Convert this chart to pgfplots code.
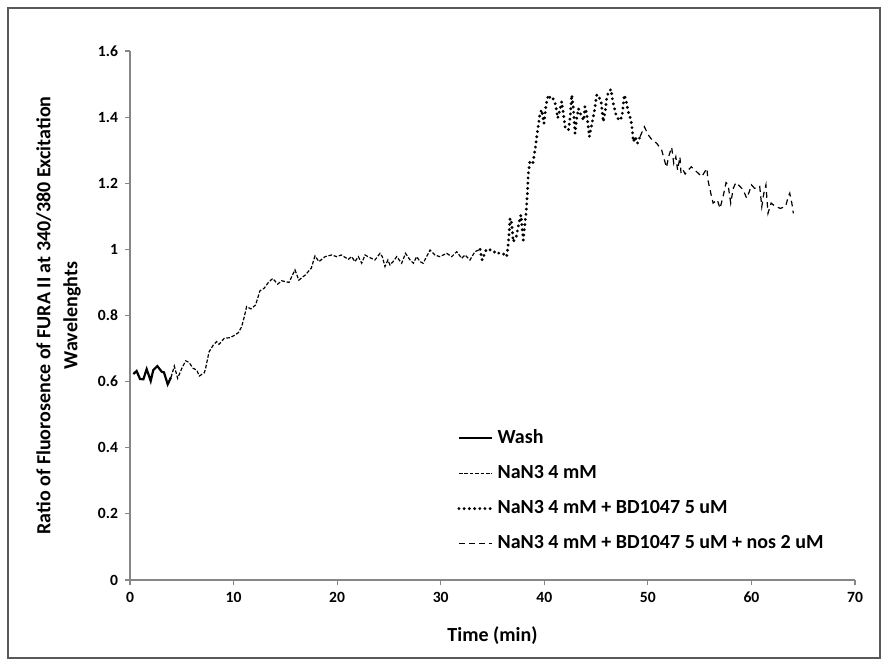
\documentclass[border=0pt]{standalone}
\usepackage{fontspec}
\setmainfont{Carlito}
\usepackage{pgfplots}
\pgfplotsset{compat=1.18}
\definecolor{axgray}{RGB}{134,134,134}

\begin{document}
\begin{tikzpicture}
\path[use as bounding box] (-65pt,-43pt) rectangle (379pt,290pt);
\draw[black!65, line width=0.6pt] (-61pt,-39pt) rectangle (375pt,286pt);
\begin{axis}[
    at={(0,0)}, anchor=south west,
    width=362.5pt, height=264.5pt, scale only axis,
    xmin=0, xmax=70, ymin=0, ymax=1.6,
    xtick={0,10,20,30,40,50,60,70},
    ytick={0,0.2,0.4,0.6,0.8,1,1.2,1.4,1.6},
    axis x line*=bottom, axis y line*=left,
    axis line style={axgray, line width=0.6pt, -},
    tick style={axgray, line width=0.6pt},
    tick align=outside, major tick length=2.5pt,
    /pgf/number format/assume math mode=true,
    /pgf/number format/fixed,
    tick label style={font=\fontsize{7.8}{9}\selectfont\bfseries, black},
    xlabel={Time (min)},
    xlabel style={font=\fontsize{10}{12}\selectfont\bfseries, at={(axis description cs:0.5,-0.106)}, anchor=center},
    ylabel={Ratio of Fluorosence of FURA II at 340/380 Excitation\\Wavelenghts},
    ylabel style={font=\fontsize{10}{13.5}\selectfont\bfseries, align=center, at={(axis description cs:-0.0986,0.5)}, anchor=center},
    legend style={at={(axis description cs:0.451,0.293)}, anchor=north west, draw=none, fill=none,
        font=\fontsize{10}{12}\selectfont\bfseries, row sep=5.5pt, inner sep=0pt, cells={anchor=west}},
    legend image code/.code={\draw[#1] (0pt,0pt) -- (16.5pt,0pt);},
]
\addplot[black, line width=1.1pt] coordinates {
(0.32,0.623)(0.64,0.632)(0.97,0.608)(1.29,0.607)(1.61,0.638)(2.0,0.602)(2.25,0.635)(2.64,0.647)(3.06,0.630)(3.28,0.628)(3.64,0.592)(3.96,0.613)
};
\addlegendentry{Wash}
\addplot[black, line width=0.6pt, dash pattern=on 1.8pt off 0.9pt] coordinates {
(3.96,0.613)(4.28,0.647)(4.6,0.61)(5.0,0.64)(5.38,0.663)(5.7,0.658)(6.1,0.64)(6.44,0.635)(6.7,0.617)(7.18,0.627)(7.3,0.64)(7.63,0.69)(8.05,0.711)(8.37,0.721)(8.6,0.713)(9.1,0.731)(9.66,0.733)(10.14,0.741)(10.46,0.748)(10.78,0.766)(11.04,0.797)(11.26,0.827)(11.68,0.82)(12.13,0.832)(12.55,0.875)(12.94,0.882)(13.36,0.9)(13.78,0.912)(14.26,0.895)(14.65,0.905)(15.35,0.9)(15.93,0.938)(16.3,0.907)(16.9,0.922)(17.5,0.943)(17.86,0.98)(18.25,0.963)(18.83,0.978)(19.47,0.983)(19.96,0.978)(20.4,0.983)(21.08,0.97)(21.4,0.978)(21.72,0.963)(22.05,0.978)(22.37,0.958)(22.69,0.983)(23.17,0.975)(23.65,0.968)(24.14,0.988)(24.36,0.978)(24.62,0.948)(24.9,0.968)(25.1,0.953)(25.4,0.963)(25.75,0.978)(26.23,0.958)(26.6,0.988)(27.04,0.968)(27.36,0.958)(27.68,0.978)(28.0,0.963)(28.3,0.958)(28.97,0.998)(29.45,0.983)(29.9,0.978)(30.58,0.988)(31.06,0.978)(31.54,0.993)(32.03,0.973)(32.35,0.983)(32.83,0.968)(33.3,0.993)(33.8,1.0)
};
\addlegendentry{NaN3 4 mM}
\addplot[black, line width=1.6pt, line cap=round, dash pattern=on 0pt off 2.6pt] coordinates {
(33.8,1.0)(34.0,0.968)(34.4,1.0)(35.0,0.998)(35.4,0.986)(35.7,0.99)(36.05,0.986)(36.37,0.978)(36.53,1.018)(36.7,1.094)(36.85,1.08)(37.0,1.023)(37.3,1.04)(37.55,1.079)(37.75,1.104)(37.97,1.028)(38.1,1.07)(38.24,1.109)(38.37,1.17)(38.46,1.23)(38.6,1.265)(38.9,1.26)(39.1,1.3)(39.27,1.341)(39.43,1.376)(39.59,1.412)(39.75,1.422)(39.97,1.381)(40.17,1.437)(40.39,1.467)(40.6,1.457)(40.8,1.46)(41.1,1.437)(41.29,1.397)(41.5,1.42)(41.68,1.447)(41.85,1.41)(42.0,1.371)(42.33,1.361)(42.5,1.40)(42.65,1.467)(42.8,1.43)(42.97,1.351)(43.1,1.39)(43.3,1.426)(43.5,1.41)(43.8,1.39)(43.93,1.432)(44.1,1.41)(44.35,1.341)(44.6,1.38)(44.83,1.417)(45.06,1.467)(45.2,1.467)(45.5,1.445)(45.6,1.412)(45.7,1.386)(45.9,1.42)(46.0,1.452)(46.2,1.477)(46.45,1.484)(46.6,1.45)(46.77,1.427)(46.9,1.41)(47.2,1.39)(47.5,1.40)(47.73,1.467)(47.9,1.45)(48.1,1.417)(48.37,1.391)(48.5,1.361)(48.6,1.326)(48.8,1.34)(49.0,1.321)(49.25,1.341)
};
\addlegendentry{NaN3 4 mM + BD1047 5 uM}
\addplot[black, line width=0.6pt, dash pattern=on 2.8pt off 2.2pt] coordinates {
(49.25,1.341)(49.66,1.371)(50.05,1.346)(50.4,1.331)(50.85,1.321)(51.33,1.301)(51.6,1.27)(51.8,1.248)(52.0,1.28)(52.3,1.309)(52.5,1.26)(52.7,1.28)(52.87,1.24)(53.1,1.28)(53.2,1.23)(53.4,1.24)(53.6,1.228)(53.9,1.24)(54.2,1.25)(54.5,1.24)(54.7,1.235)(55.2,1.22)(55.7,1.245)(55.8,1.21)(56.0,1.18)(56.3,1.14)(56.7,1.15)(56.97,1.124)(57.3,1.165)(57.55,1.202)(57.75,1.195)(58.0,1.14)(58.25,1.185)(58.5,1.202)(58.9,1.19)(59.2,1.18)(59.54,1.155)(59.8,1.175)(60.0,1.195)(60.3,1.185)(60.5,1.185)(60.8,1.19)(61.0,1.129)(61.2,1.17)(61.4,1.195)(61.6,1.109)(61.9,1.14)(62.3,1.13)(62.8,1.124)(63.3,1.13)(63.56,1.16)(63.7,1.17)(63.9,1.14)(64.05,1.109)
};
\addlegendentry{NaN3 4 mM + BD1047 5 uM + nos 2 uM}
\end{axis}
\end{tikzpicture}
\end{document}
